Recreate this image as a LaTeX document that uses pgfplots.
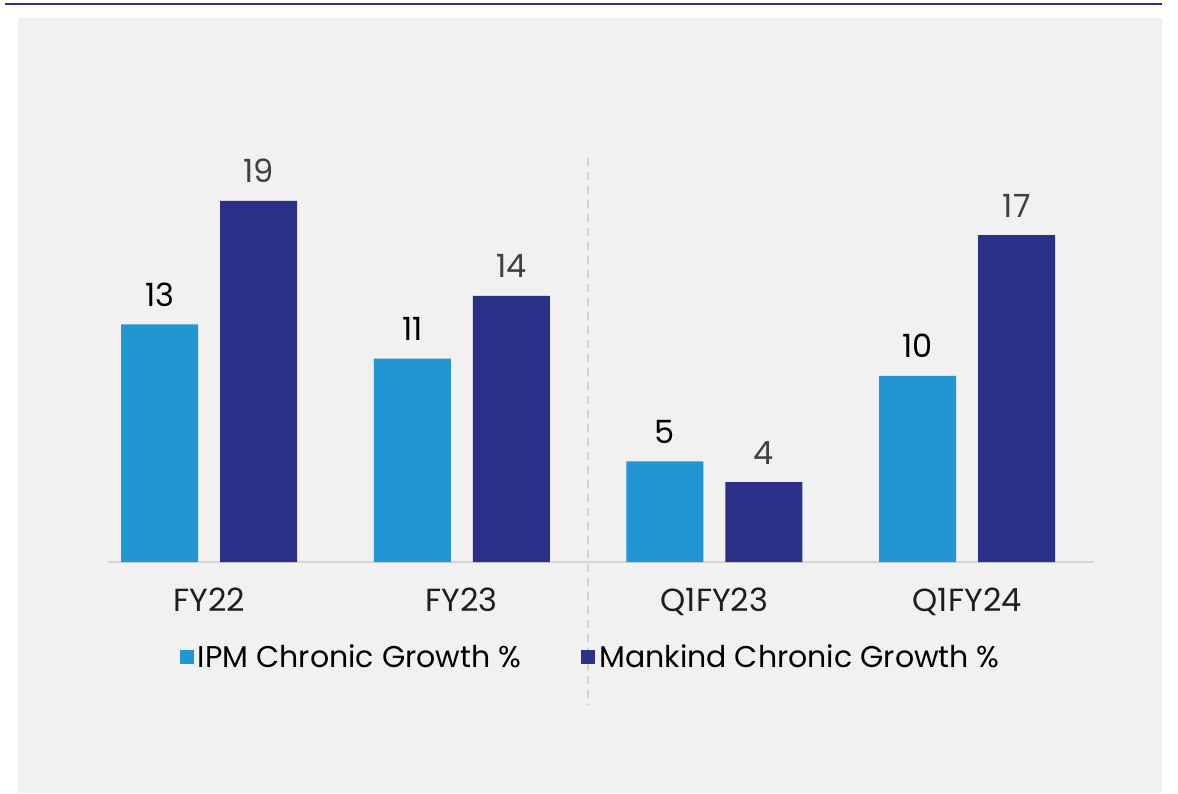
\documentclass[border=0pt]{standalone}
\usepackage{pgfplots}
\pgfplotsset{compat=1.18}
\usepackage{pgfplotstable}
\usepackage{fontspec}
\setmainfont{Poppins}
\definecolor{ipmblue}{RGB}{33,150,211}
\definecolor{mknavy}{RGB}{43,49,135}
\definecolor{panelgray}{RGB}{241,241,241}
\definecolor{axisgray}{RGB}{214,214,214}
\definecolor{labgray}{RGB}{64,64,64}
\definecolor{tickgray}{RGB}{30,30,30}

\pgfplotstableread{
x y lab
0 12.5 13
1 10.7 11
2 5.3 5
3 9.8 10
}\ipmdata
\pgfplotstableread{
x y lab
0 19.0 19
1 14.0 14
2 4.2 4
3 17.2 17
}\mankinddata

\begin{document}
\begin{tikzpicture}
  % page frame and grey panel (1 px = 0.5pt)
  \path (0,0) rectangle (589pt,-396.5pt);
  \fill[panelgray] (9pt,-9pt) rectangle (581pt,-396.5pt);
  \draw[mknavy, line width=1.2pt] (2.5pt,-2pt) -- (581pt,-2pt);

  \begin{axis}[
    at={(54pt,-281pt)}, anchor=south west,
    scale only axis, width=492.75pt, height=272pt,
    xmin=-0.4, xmax=3.5, ymin=0, ymax=28.63,
    clip=false,
    ybar=11pt, bar width=38.5pt,
    axis x line*=bottom, axis y line=none,
    axis line style={axisgray, line width=1pt},
    xtick={0,1,2,3},
    xticklabels={FY22,FY23,Q1FY23,Q1FY24},
    major tick length=0pt,
    xticklabel style={anchor=base, yshift=-24.5pt, text=tickgray,
      font=\fontsize{16}{19}\selectfont},
    nodes near coords,
    point meta=explicit symbolic,
    every node near coord/.append style={anchor=base, yshift=9pt,
      font=\fontsize{16}{19}\selectfont},
    legend columns=2,
    legend style={at={(0.491,-0.175)}, anchor=center, draw=none, fill=none,
      font=\fontsize{15}{18}\selectfont,
      /tikz/every even column/.append style={column sep=28pt}},
    legend image code/.code={\fill (0pt,-3.5pt) rectangle (7pt,3.5pt);},
  ]
    \addplot[fill=ipmblue, draw=none, every node near coord/.append style={text=black}]
      table[x=x, y=y, meta=lab] {\ipmdata};
    \addplot[fill=mknavy, draw=none, every node near coord/.append style={text=labgray}]
      table[x=x, y=y, meta=lab] {\mankinddata};
    \legend{IPM Chronic Growth \%, Mankind Chronic Growth \%}
    \draw[axisgray!85!black!60, dashed, line width=1pt, dash pattern=on 4pt off 3pt]
      (axis cs:1.5,21.26) -- (axis cs:1.5,-7.53);
  \end{axis}
\end{tikzpicture}
\end{document}
